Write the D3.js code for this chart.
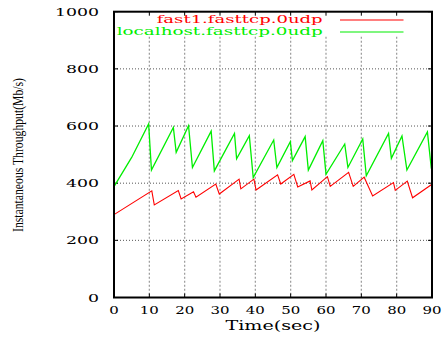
<!DOCTYPE html>
<html><head><meta charset="utf-8">
<script src="https://cdn.jsdelivr.net/npm/d3@7/dist/d3.min.js"></script>
<style>body{margin:0;background:#fff}svg{display:block}</style>
</head><body>
<svg id="c" width="443" height="341"></svg>
<script>
// ---- data ----
const seriesNames = ["fast1.fasttcp.0udp", "localhost.fasttcp.0udp"];
const xTicks = [0,10,20,30,40,50,60,70,80,90];
const yTicks = [0,200,400,600,800,1000];
const redT = [0,10.7,11.4,18.2,19.0,22.5,23.2,28.8,29.8,35.4,35.9,39.6,40.2,46.3,47.2,50.9,52.0,55.5,56.0,60.4,61.2,66.4,67.7,70.8,73.2,79.1,79.6,83.0,84.5,90];
const redV = [290,373,324,374,345,370,351,397,362,414,380,414,376,429,397,431,387,408,376,423,389,438,389,421,355,402,375,407,349,396];
const greenT = [0,5,9.8,10.6,16.8,17.6,21.1,22.2,27.5,28.4,34.1,34.7,38.3,39.4,45.2,46.1,49.9,50.5,54.1,55.0,59.1,60.0,65.3,66.2,70.4,71.4,77.7,78.5,81.5,82.9,88.7,89.8,90];
const greenV = [388,490,607,446,595,508,601,455,582,443,574,485,566,420,551,455,545,479,563,446,549,431,537,455,555,426,574,487,565,446,579,452,449];

const svg = d3.select("#c");
const L = 114, R = 432, T = 11.7, B = 297.5;
const x = d3.scaleLinear().domain([0,90]).range([L,R]);
const y = d3.scaleLinear().domain([0,1000]).range([B,T]);
const serif = "'DejaVu Serif', serif";

// grid
const g = svg.append("g");
g.selectAll(".hg").data(yTicks.filter(v=>v>0&&v<1000)).join("line")
  .attr("x1",L).attr("x2",R).attr("y1",d=>y(d)).attr("y2",d=>y(d))
  .attr("stroke","#555").attr("stroke-width",1).attr("stroke-dasharray","1,2");
g.selectAll(".vg").data(xTicks.filter(v=>v>0&&v<90)).join("line")
  .attr("x1",d=>x(d)).attr("x2",d=>x(d)).attr("y1",y(912)).attr("y2",B)
  .attr("stroke","#999").attr("stroke-width",1.2).attr("stroke-dasharray","2,2");

// ticks (mirrored, inward)
const tk = 4;
g.selectAll(".yt").data(yTicks).join("line").attr("x1",L).attr("x2",L+tk).attr("y1",d=>y(d)).attr("y2",d=>y(d)).attr("stroke","#000");
g.selectAll(".yt2").data(yTicks).join("line").attr("x1",R).attr("x2",R-tk).attr("y1",d=>y(d)).attr("y2",d=>y(d)).attr("stroke","#000");
g.selectAll(".xt").data(xTicks).join("line").attr("x1",d=>x(d)).attr("x2",d=>x(d)).attr("y1",B).attr("y2",B-tk).attr("stroke","#000");
g.selectAll(".xt2").data(xTicks).join("line").attr("x1",d=>x(d)).attr("x2",d=>x(d)).attr("y1",T).attr("y2",T+tk).attr("stroke","#000");

// tick labels
svg.selectAll(".yl").data(yTicks).join("text")
  .attr("x",99).attr("y",d=>y(d)+4).attr("text-anchor","end")
  .attr("font-family",serif).attr("font-size",11)
  .attr("textLength",d=>String(d).length*11).attr("lengthAdjust","spacingAndGlyphs")
  .text(d=>d);
svg.selectAll(".xl").data(xTicks).join("text")
  .attr("x",d=>x(d)).attr("y",313.5).attr("text-anchor","middle")
  .attr("font-family",serif).attr("font-size",11)
  .attr("textLength",d=>String(d).length*9.5).attr("lengthAdjust","spacingAndGlyphs")
  .text(d=>d);

// axis titles
svg.append("text").attr("x",273).attr("y",330).attr("text-anchor","middle")
  .attr("font-family",serif).attr("font-size",12)
  .attr("textLength",95).attr("lengthAdjust","spacingAndGlyphs").text("Time(sec)");
svg.append("text").attr("transform","translate(22.5,155) rotate(-90)").attr("text-anchor","middle")
  .attr("font-family","'Liberation Serif', serif").attr("font-size",15)
  .attr("textLength",154).attr("lengthAdjust","spacingAndGlyphs").text("Instantaneous Throughput(Mb/s)");

// lines
const line = d3.line().x(d=>x(d[0])).y(d=>y(d[1]));
svg.append("path").datum(redT.map((t,i)=>[t,redV[i]])).attr("d",line)
  .attr("fill","none").attr("stroke","#ff0000").attr("stroke-width",1.1);
svg.append("path").datum(greenT.map((t,i)=>[t,greenV[i]])).attr("d",line)
  .attr("fill","none").attr("stroke","#00ee00").attr("stroke-width",1.3);

// legend
const colors = ["#ff0000","#00ee00"];
const legY = [20,32];
const legLen = [166,206];
seriesNames.forEach((n,i)=>{
  svg.append("text").attr("x",322.7).attr("y",legY[i]+3).attr("text-anchor","end")
    .attr("font-family",serif).attr("font-size",11).attr("fill",colors[i])
    .attr("textLength",legLen[i]).attr("lengthAdjust","spacingAndGlyphs").text(n);
  svg.append("line").attr("x1",340).attr("x2",403.5).attr("y1",legY[i]).attr("y2",legY[i])
    .attr("stroke",colors[i]).attr("stroke-width",1.2);
});

// border
svg.append("rect").attr("x",L).attr("y",T).attr("width",R-L).attr("height",B-T)
  .attr("fill","none").attr("stroke","#000").attr("stroke-width",2);
</script>
</body></html>
